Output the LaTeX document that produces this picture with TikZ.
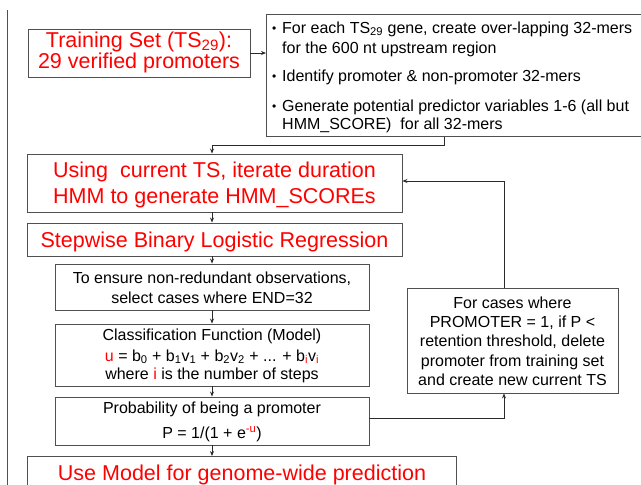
\documentclass[tikz,border=0pt]{standalone}
\usepackage{fontspec}
\setmainfont{Liberation Sans}
\usetikzlibrary{arrows.meta}
\definecolor{boxline}{HTML}{505050}
\definecolor{connline}{HTML}{2A2A2A}
\definecolor{hl}{HTML}{FF0000}

\begin{document}
\begin{tikzpicture}[x=1pt,y=-1pt,
  box/.style={draw=boxline, line width=0.9pt, inner sep=0pt, align=center},
  conn/.style={draw=connline, line width=0.8pt, -{Stealth[length=5pt,width=4pt]}},
  big/.style={font=\fontsize{21.5}{26}\selectfont, text=hl},
  small/.style={font=\fontsize{16}{20}\selectfont},
  dot/.style={font=\fontsize{12}{14}\selectfont, inner sep=0pt, anchor=base west},
  txt/.style={inner sep=0pt, anchor=base}]

\useasboundingbox (0,0) rectangle (641,485);
\clip (0,0) rectangle (641,485);

% page margin rule
\draw[boxline, line width=0.9pt] (7,10) -- (7,485);

% column of the main flow
\coordinate (col) at (212,0);

% boxes
\node[box, minimum width=222pt, minimum height=48pt] (ts) at (139,53) {};
\node[box, minimum width=400pt, minimum height=122pt, anchor=north west] (bul) at (266,14) {};
\node[box, minimum width=375pt, minimum height=58pt] (hmm) at (214.5,183) {};
\node[box, minimum width=375pt, minimum height=33pt] (step) at (214.5,239.5) {};
\node[box, minimum width=314pt, minimum height=46pt] (sel) at (212,287) {};
\node[box, minimum width=314pt, minimum height=62pt] (cls) at (212,355) {};
\node[box, minimum width=314pt, minimum height=48pt] (prob) at (212,421) {};
\node[box, minimum width=429pt, minimum height=50pt, anchor=north west] (use) at (27,456) {};
\node[box, minimum width=211pt, minimum height=105pt] (ret) at (512.5,340.5) {};

% red headings
\node[txt, big] (tsA) at (139,47) {Training Set (TS\textsubscript{29}):};
\node[txt, big] (tsB) at (139,68.5) {29 verified promoters};
\node[txt, big] (hmmA) at (214.5,177.3) {Using\ \ current TS, iterate duration};
\node[txt, big] (hmmB) at (214.5,203.3) {HMM to generate HMM\_SCOREs};
\node[txt, big] (stepA) at (214.5,247.5) {Stepwise Binary Logistic Regression};
\node[txt, big] (useA) at (242,480) {Use Model for genome-wide prediction};

% bullet list
\node[dot] (bA) at (272,32.5) {\textbullet};
\node[txt, small, anchor=base west] (bA1) at (282,33.3) {For each TS\textsubscript{29} gene, create over-lapping 32-mers};
\node[txt, small, anchor=base west] (bA2) at (282,53) {for the 600 nt upstream region};
\node[dot] (bB) at (272,80.9) {\textbullet};
\node[txt, small, anchor=base west] (bB1) at (282,81.7) {Identify promoter \& non-promoter 32-mers};
\node[dot] (bC) at (272,110.7) {\textbullet};
\node[txt, small, anchor=base west] (bC1) at (282,111.5) {Generate potential predictor variables 1-6 (all but};
\node[txt, small, anchor=base west] (bC2) at (282,129) {HMM\_SCORE)\ \ for all 32-mers};

% black text in the flow
\node[txt, small] (selA) at (212,283.3) {To ensure non-redundant observations,};
\node[txt, small] (selB) at (212,303.3) {select cases where END=32};
\node[txt, small] (clsA) at (212,340) {Classification Function (Model)};
\node[txt, small] (clsB) at (212,361) {\textcolor{hl}{u} = b\textsubscript{0} + b\textsubscript{1}v\textsubscript{1} + b\textsubscript{2}v\textsubscript{2} + ... + b\textsubscript{\textcolor{hl}{i}}v\textsubscript{\textcolor{hl}{i}}};
\node[txt, small] (clsC) at (212,379.3) {where \textcolor{hl}{i} is the number of steps};
\node[txt, small] (probA) at (212,413.3) {Probability of being a promoter};
\node[txt, small] (probB) at (212,438.3) {P = 1/(1 + e\textsuperscript{\textcolor{hl}{-u}})};

\node[txt, small] (retA) at (512.5,308.3) {For cases where};
\node[txt, small] (retB) at (512.5,327.7) {PROMOTER = 1, if P <};
\node[txt, small] (retC) at (512.5,346.9) {retention threshold, delete};
\node[txt, small] (retD) at (512.5,366.2) {promoter from training set};
\node[txt, small] (retE) at (512.5,385.5) {and create new current TS};

% connectors
\coordinate (bend1) at (444,145);
\coordinate (bend2) at (504,181);
\coordinate (bend3) at (504,418);
\draw[conn] (ts.east) -- (ts.east -| bul.west);
\draw[conn] (bul.south -| bend1) -- (bend1) -| (hmm.north -| col);
\draw[conn] (hmm.south -| col) -- (step.north -| col);
\draw[conn] (step.south -| col) -- (sel.north -| col);
\draw[conn] (sel.south -| col) -- (cls.north -| col);
\draw[conn] (cls.south -| col) -- (prob.north -| col);
\draw[conn] (prob.south -| col) -- (use.north -| col);
\draw[conn] (prob.east |- bend3) -- (bend3) -- (ret.south -| bend3);
\draw[conn] (ret.north -| bend2) -- (bend2) -- (hmm.east |- bend2);
\end{tikzpicture}
\end{document}
